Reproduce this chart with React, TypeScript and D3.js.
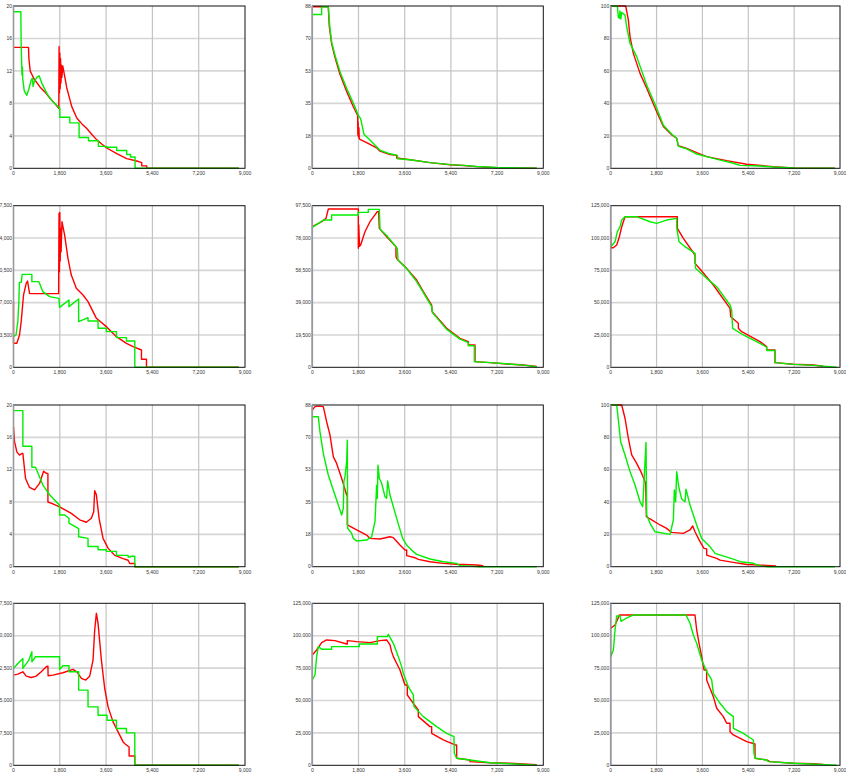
import React from 'react';
import * as d3 from 'd3';

type Pt = [number, number];

const xTicks = [0, 1800, 3600, 5400, 7200, 9000];
const yMaxes = [20, 88, 100, 17500, 97500, 125000, 20, 88, 100, 37500, 125000, 125000];

const p1Red: Pt[] = [[0,14.9],[583,14.9],[600,13.5],[648,12.0],[800,11.0],[1036,10.0],[1250,9.3],[1425,8.6],[1600,8.0],[1760,7.4],[1772,15.0],[1785,9.3],[1800,14.2],[1815,9.8],[1830,13.5],[1845,10.5],[1865,12.7],[1880,11.2],[1917,12.6],[2072,9.9],[2266,7.6],[2460,6.2],[2650,5.5],[2849,4.9],[3040,4.2],[3238,3.5],[3430,3.0],[3626,2.5],[4014,1.8],[4403,1.2],[4792,0.9],[4986,0.7],[4986,0.3],[5180,0.3],[5180,0],[8760,0]];
const p1Green: Pt[] = [[0,19.3],[285,19.3],[300,15],[330,11.5],[345,12.5],[360,11],[420,9.5],[518,9.0],[600,9.8],[690,10.9],[738,11.1],[760,10.1],[800,10.6],[900,11.2],[997,11.4],[1100,10.5],[1300,9.2],[1500,8.3],[1700,7.7],[1800,7.4],[1800,6.3],[2188,6.3],[2188,5.6],[2550,5.6],[2550,3.8],[2915,3.8],[2915,3.4],[3300,3.4],[3300,2.7],[3626,2.7],[3626,2.6],[4014,2.6],[4014,2.2],[4403,2.2],[4403,1.7],[4550,1.7],[4550,1.4],[4727,1.4],[4727,0],[8760,0]];

const p2Red: Pt[] = [[0,87.6],[623,87.6],[662,76.9],[753,67.6],[883,60.2],[1078,51],[1338,41.7],[1598,33.4],[1767,28.7],[1775,18],[1785,25],[1800,17],[1815,22],[1830,16],[1857,15.7],[2117,13.9],[2507,11.1],[2637,9.3],[3027,7.4],[3287,7.0],[3287,5.6],[3806,4.6],[4585,3.1],[5365,1.9],[5884,1.5],[6404,0.9],[7183,0.3],[8742,0.1]];
const p2Green: Pt[] = [[0,83.4],[364,83.4],[364,87.6],[623,87.6],[688,76],[760,68],[890,61],[1090,52],[1350,43],[1610,35],[1793,28.7],[1883,26.9],[2013,18.5],[2247,15.4],[2450,12.5],[2637,9.8],[3000,8.0],[3313,7.0],[3330,5.2],[3806,4.6],[4585,3.1],[5365,2.0],[5884,1.6],[6404,1.0],[7183,0.4],[8742,0.1]];

const p3Red: Pt[] = [[0,100],[589,100],[693,91.4],[759,81],[889,70.8],[1151,58.5],[1413,49.3],[1805,34.9],[2067,25.7],[2400,20.5],[2590,18.5],[2650,14],[2982,12.3],[3375,9.6],[3767,7.2],[4552,4.7],[5337,2.5],[6383,1.0],[7168,0.2],[8800,0]];
const p3Green: Pt[] = [[0,100],[262,100],[300,93],[340,92.4],[366,97],[400,92],[430,96],[562,94.4],[628,87.2],[759,77],[1020,68.8],[1413,51.3],[1805,37],[2067,26.5],[2400,21],[2590,18.5],[2660,13.5],[2982,12],[3375,8.8],[3767,7.2],[4300,5],[4814,3.1],[5076,1.8],[5860,1.4],[6383,0.8],[7168,0.2],[8800,0]];

const p4Red: Pt[] = [[0,7108],[0,2598],[130,2598],[234,3500],[299,4943],[390,7830],[494,9092],[546,9345],[624,8010],[650,7974],[1754,7974],[1770,16670],[1785,10355],[1800,16777],[1815,11500],[1835,15000],[1850,12500],[1884,15767],[1988,14324],[2117,11798],[2247,9994],[2442,8551],[2702,7830],[2897,7108],[3222,5304],[3611,4402],[4001,3319],[4391,2598],[4651,2237],[4975,1876],[4975,866],[5170,866],[5170,0],[8760,0]];
const p4Green: Pt[] = [[0,3319],[100,3500],[170,5000],[208,7108],[230,9200],[300,9200],[338,10066],[714,10066],[714,9273],[987,9273],[1143,8190],[1403,7650],[1767,7469],[1793,6494],[2156,7288],[2156,6567],[2533,7397],[2533,4943],[2897,5376],[2897,5015],[3287,5015],[3287,4221],[3611,4221],[3611,3861],[4001,3861],[4001,3211],[4391,3211],[4391,2850],[4716,2850],[4716,0],[8760,0]];

const p5Red: Pt[] = [[0,84835],[169,86240],[364,87850],[533,89860],[624,95490],[1793,95490],[1793,71770],[1810,86000],[1840,73000],[1884,73780],[2052,81820],[2247,87850],[2533,93880],[2585,93880],[2611,83830],[2897,78800],[3261,72770],[3261,66740],[3313,65000],[3676,59710],[4066,52670],[4326,45630],[4651,37590],[4670,33570],[5235,23520],[5754,17490],[6079,15480],[6079,13470],[6339,13470],[6339,3418],[6923,2814],[7573,2000],[8223,1400],[8742,500]];
const p5Green: Pt[] = [[0,84430],[299,87450],[429,88850],[753,88850],[753,91870],[1793,91870],[1793,93480],[2182,93480],[2182,95290],[2611,95290],[2640,83230],[2897,79500],[3313,71770],[3339,64730],[3676,59500],[4066,51700],[4326,45000],[4651,36590],[4680,33000],[5235,22900],[5754,17000],[6079,14880],[6079,13000],[6313,13000],[6313,3418],[6923,2800],[7573,2100],[8223,1300],[8742,300]];

const p6Red: Pt[] = [[0,104900],[0,92520],[105,92520],[235,94580],[340,101000],[432,108700],[562,116480],[2616,116480],[2616,107460],[2851,99730],[3309,86850],[3309,80400],[3505,76020],[4029,63650],[4683,45610],[4710,39170],[5010,34020],[5010,30150],[5140,27570],[5860,19840],[6121,15980],[6121,13400],[6448,13400],[6448,3608],[7168,2320],[7953,1800],[8345,800]];
const p6Green: Pt[] = [[0,93290],[170,97150],[262,104900],[366,108700],[432,113900],[562,116480],[1020,116480],[1543,112600],[1805,111300],[2197,113900],[2590,115200],[2590,108000],[2682,97150],[2917,93290],[3309,88130],[3330,76540],[3767,68810],[4160,62360],[4683,48190],[4748,44320],[4785,30150],[5206,25000],[5860,18550],[6121,15500],[6121,13000],[6448,13000],[6448,3600],[7168,2300],[7953,1500],[8868,0]];

const p7Red: Pt[] = [[0,17.3],[39,15.5],[130,14.2],[234,13.8],[320,14.0],[364,14.0],[468,10.9],[624,9.8],[818,9.5],[1013,10.3],[1169,11.8],[1250,11.6],[1338,11.5],[1338,8.0],[1507,7.8],[1793,7.4],[2247,6.6],[2572,5.8],[2832,5.5],[3027,6.0],[3118,6.8],[3157,9.4],[3222,8.9],[3326,6.0],[3481,3.5],[3676,2.3],[3935,1.4],[4261,1.0],[4456,0.8],[4520,0.4],[4716,0.4],[4716,0],[8760,0]];
const p7Green: Pt[] = [[0,19.3],[364,19.3],[364,14.9],[714,14.9],[714,12.3],[857,12.3],[1143,10.1],[1403,8.9],[1793,7.6],[1793,6.4],[1990,6.4],[2156,6.0],[2156,5.4],[2533,4.7],[2533,3.7],[2897,3.5],[2897,2.5],[3287,2.5],[3287,2.1],[3611,2.1],[3611,1.9],[4001,1.9],[4001,1.4],[4456,1.4],[4456,1.2],[4540,1.2],[4560,1.3],[4716,1.3],[4716,0],[8760,0]];

const p8Red: Pt[] = [[0,85.3],[104,87.1],[234,87.4],[429,87.1],[559,78.9],[688,71.7],[818,59.9],[948,56.2],[1143,48.1],[1338,39.0],[1364,39],[1364,22.7],[1728,20.0],[2117,17.2],[2247,15.4],[2637,15.1],[3027,16.3],[3157,15.8],[3416,11.8],[3611,9.1],[3676,9.1],[3676,6.0],[4001,4.9],[4131,4.0],[4585,2.7],[5105,1.8],[5624,1.3],[6403,0.9],[6663,0.5]];
const p8Green: Pt[] = [[0,81.6],[234,81.6],[299,73.5],[429,61.7],[623,49.9],[818,41.7],[1013,33.6],[1143,28.1],[1208,31.7],[1230,46.3],[1273,49.0],[1338,57.1],[1364,68.9],[1377,20.9],[1533,18.1],[1598,15.4],[1728,14.0],[2117,14.5],[2312,16.3],[2442,24.5],[2507,44.4],[2533,37.2],[2559,55.3],[2611,48.1],[2702,45.4],[2832,38.1],[2897,37.2],[2936,46.6],[3027,39.0],[3287,26.3],[3520,15.4],[3676,11.8],[3936,8.2],[4066,6.7],[4585,4.2],[5105,2.7],[5624,1.8],[5754,0.5],[6143,0.3],[6500,0],[8742,0]];

const p9Red: Pt[] = [[0,100],[432,100],[562,91.8],[693,79.4],[824,69.1],[1020,63.9],[1217,57.7],[1374,51.5],[1400,30.9],[1609,28.9],[1936,25.8],[2197,23.7],[2393,21.2],[2851,20.6],[3113,22.7],[3218,25.2],[3309,21.6],[3505,15.5],[3662,11.3],[3767,11.0],[3767,7.2],[4160,5.2],[4291,4.1],[4814,2.7],[5337,1.4],[5860,1.0],[6488,0.5]];
const p9Green: Pt[] = [[0,100],[235,100],[301,90.7],[392,77.3],[562,69.1],[759,58.8],[955,50.5],[1151,40.2],[1256,37.1],[1308,52.6],[1386,76.9],[1413,32.0],[1544,26.8],[1740,21.6],[2328,20.0],[2459,28.9],[2498,47.4],[2550,40.2],[2590,58.8],[2682,48.5],[2786,41.9],[2917,40.2],[2956,48.0],[3113,38.1],[3375,25.8],[3571,17.5],[3898,12.4],[4095,8.2],[4814,4.7],[5076,3.1],[5599,2.1],[5860,0.5],[6200,0],[8800,0]];

const p10Red: Pt[] = [[0,20876],[169,21100],[364,21650],[494,20640],[688,20330],[883,20640],[1078,21650],[1273,22810],[1338,22960],[1345,20720],[1533,20880],[1922,21420],[2312,22190],[2468,21650],[2637,20100],[2806,19720],[2962,20640],[3092,24360],[3157,31310],[3222,35180],[3287,32860],[3417,24360],[3546,17780],[3676,13530],[3871,10050],[4066,7730],[4261,5410],[4330,5000],[4494,4250],[4494,2165],[4716,2165],[4716,0],[8760,0]];
const p10Green: Pt[] = [[0,22420],[169,23580],[364,24740],[364,22420],[597,24360],[714,26290],[714,23970],[857,25130],[1793,25130],[1793,22190],[1922,23040],[2156,23040],[2156,21650],[2533,21650],[2533,17400],[2897,17400],[2897,13530],[3287,13530],[3287,11600],[3637,11600],[3637,10440],[4001,10440],[4001,8505],[4391,8505],[4391,7500],[4716,7500],[4716,0],[8760,0]];

const p11Red: Pt[] = [[0,85130],[169,88990],[364,94650],[559,96700],[883,96190],[1338,93620],[1364,93620],[1364,96190],[1728,95420],[2247,94650],[2637,96190],[2897,96700],[3027,92850],[3091,87700],[3157,83850],[3416,73560],[3611,61990],[3702,61990],[3702,54270],[3936,47840],[4131,42700],[4131,37550],[4585,29830],[4650,29830],[4650,24690],[5105,19550],[5559,15690],[5624,15690],[5624,5400],[6143,4115],[6143,2830],[6923,2000],[7702,1540],[8742,500]];
const p11Green: Pt[] = [[0,65840],[104,69700],[169,83850],[234,91560],[364,89510],[753,89510],[753,91560],[1831,91560],[1831,93620],[2533,93620],[2533,99280],[2923,99280],[2962,101080],[3157,94140],[3352,83850],[3481,76130],[3546,70990],[3741,60700],[3936,54270],[3962,45270],[4326,37550],[4845,29830],[5235,24690],[5520,22120],[5533,9260],[5624,5400],[6143,4115],[6923,2000],[7702,1200],[8742,0]];

const p12Red: Pt[] = [[0,105710],[170,108280],[262,112140],[340,116000],[3309,116000],[3375,104420],[3479,92850],[3571,83850],[3662,73560],[3767,73560],[3767,65840],[4029,52980],[4160,43980],[4421,37550],[4552,32410],[4683,32410],[4683,25980],[4814,23410],[5337,18270],[5664,16460],[5664,5400],[6121,4115],[6252,2830],[7168,1540],[7953,1200],[8345,700]];
const p12Green: Pt[] = [[0,83850],[105,88990],[170,104420],[235,115230],[366,115230],[405,111110],[562,112900],[889,116000],[2956,116000],[3113,109570],[3244,100570],[3375,94140],[3571,81280],[3767,72270],[3964,65840],[4029,55550],[4291,47840],[4552,41410],[4814,37550],[4814,28550],[5206,24690],[5599,19550],[5625,9260],[5664,5400],[6121,4115],[6186,2830],[7168,1540],[8000,800],[8868,0]];

const redSeries = [p1Red, p2Red, p3Red, p4Red, p5Red, p6Red, p7Red, p8Red, p9Red, p10Red, p11Red, p12Red];
const greenSeries = [p1Green, p2Green, p3Green, p4Green, p5Green, p6Green, p7Green, p8Green, p9Green, p10Green, p11Green, p12Green];

// plot frames
const colLeft = [13.5, 312.3, 610.7];
const colRight = [245, 543.3, 840];
const rowTop = [6, 205.7, 405, 603.3];
const rowBottom = [168.3, 367.3, 566.7, 765.3];

const fmt = d3.format(',.0f');

function Panel({ i }: { i: number }) {
  const c = i % 3;
  const r = Math.floor(i / 3);
  const x = d3.scaleLinear().domain([0, 9000]).range([colLeft[c], colRight[c]]);
  const y = d3.scaleLinear().domain([0, yMaxes[i]]).range([rowBottom[r], rowTop[r]]);
  const yTicks = d3.range(6).map(k => (yMaxes[i] * k) / 5);
  const line = d3.line<Pt>().x(d => x(d[0])).y(d => y(d[1]));
  const [x0, x1] = x.range();
  const [y0, y1] = [rowTop[r], rowBottom[r]];

  return (
    <g>
      <rect x={x0} y={y0} width={x1 - x0} height={y1 - y0} fill="#fff" />
      {yTicks.slice(1, 5).map(t => (
        <line key={'h' + t} x1={x0} x2={x1} y1={y(t)} y2={y(t)} stroke="#d6d6d6" strokeWidth={1.6} />
      ))}
      {xTicks.slice(1, 5).map(t => (
        <line key={'v' + t} x1={x(t)} x2={x(t)} y1={y0} y2={y1} stroke="#c4c4c4" strokeWidth={1.2} />
      ))}
      <path d={line(redSeries[i]) || ''} fill="none" stroke="#ff0000" strokeWidth={1.4} strokeLinejoin="round" />
      <path d={line(greenSeries[i]) || ''} fill="none" stroke="#00ee00" strokeWidth={1.4} strokeLinejoin="round" />
      <rect x={x0} y={y0} width={x1 - x0} height={y1 - y0} fill="none" stroke="#111" strokeWidth={1} />
      <line x1={x0} x2={x0} y1={y0} y2={y1} stroke="#999" strokeWidth={1.6} />
      {yTicks.map(t => (
        <text key={'yl' + t} x={x0 - 1.5} y={y(t)} dy="0.35em" textAnchor="end" fontSize={5} fill="#333">
          {fmt(t)}
        </text>
      ))}
      {xTicks.map(t => (
        <text key={'xl' + t} x={x(t)} y={y1 + 7} textAnchor="middle" fontSize={5} fill="#333">
          {fmt(t)}
        </text>
      ))}
    </g>
  );
}

export default function App() {
  return (
    <svg
      width={846}
      height={777}
      style={{ position: 'absolute', left: 0, top: 0, background: '#fff', fontFamily: '"Liberation Sans", Arial, sans-serif' }}
    >
      {yMaxes.map((_, i) => (
        <Panel key={i} i={i} />
      ))}
    </svg>
  );
}
